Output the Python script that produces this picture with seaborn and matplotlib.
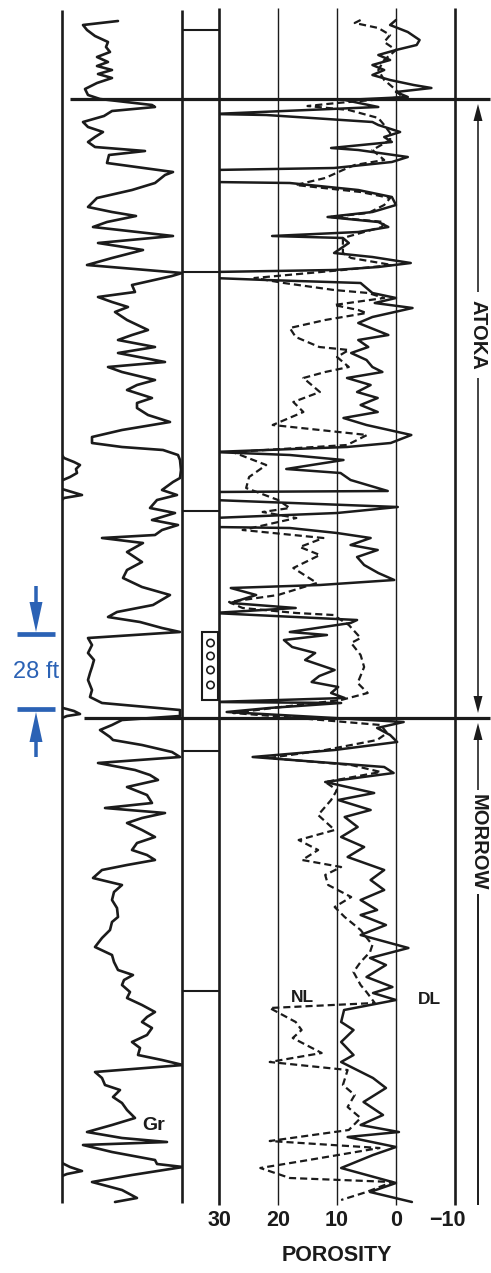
"""
Well log: Gamma ray + porosity (density / neutron), Atoka - Morrow contact.
Chay: python plot.py  -> out.png
"""

import matplotlib

matplotlib.use("Agg")
import matplotlib.pyplot as plt
import matplotlib.transforms as mtransforms
from matplotlib.patches import Circle, Rectangle
import seaborn as sns

sns.set_theme(style="white")
plt.rcParams["font.family"] = ["Liberation Sans", "DejaVu Sans"]

INK = "#1b1b1b"
BLUE = "#2b62b5"

# ---- gia tri doc tu log (do sau tinh theo don vi cua hinh, dinh = 10, day = 1205) ----
gr_depth = [21, 25, 30, 36, 42, 47, 52, 57, 62, 66, 70, 74, 78, 83, 89, 95, 99,
            105, 107, 111, 116, 122, 127, 132, 137, 142, 147, 151, 155, 163,
            172, 175, 183, 190, 198, 207, 212, 216, 222, 227, 236, 243, 250,
            258, 265, 273, 276, 285, 292, 297, 302, 307, 312, 320, 330, 335,
            340, 347, 353, 362, 367, 372, 380, 385, 390, 398, 403, 408, 415,
            422, 430, 437, 443, 447, 450, 455, 460, 470, 478, 482, 490, 495,
            500, 508, 513, 520, 525, 530, 535, 538, 543, 552, 562, 570, 578,
            587, 595, 605, 612, 617, 622, 628, 632, 638, 645, 653, 660, 667,
            673, 680, 690, 697, 703, 710, 716, 720, 725, 730, 737, 740, 745,
            752, 757, 763, 770, 775, 780, 787, 795, 803, 808, 813, 818, 823,
            830, 837, 843, 850, 855, 860, 865, 870, 878, 885, 892, 900, 908,
            917, 922, 930, 938, 947, 955, 962, 970, 975, 980, 985, 992, 998,
            1005, 1012, 1017, 1022, 1028, 1035, 1042, 1048, 1055, 1060, 1065,
            1072, 1078, 1085, 1090, 1097, 1103, 1110, 1118, 1125, 1132, 1138,
            1142, 1145, 1152, 1160, 1164, 1167, 1175, 1182, 1190, 1198, 1202]
gr_value = [56, 21, 25, 33, 46, 44, 48, 35, 46, 35, 50, 36, 50, 35, 23, 26, 38,
            90, 93, 50, 42, 21, 26, 41, 33, 26, 33, 83, 47, 45,
            111, 103, 93, 70, 35, 26, 50, 74, 45, 31, 111, 36, 81,
            50, 25, 120, 110, 70, 73, 36, 50, 66, 53, 65, 86, 70,
            56, 93, 56, 103, 46, 60, 93, 75, 65, 90, 75, 75, 86,
            108, 60, 30, 30, 60, 101, 116, 118, 119, 118, 111, 100, 115,
            95, 88, 113, 90, 116, 100, 93, 40, 81, 65, 80, 65, 61,
            80, 108, 91, 55, 46, 78, 100, 118, 26, 30, 26, 32, 30,
            28, 26, 30, 28, 40, 118, 118, 60, 50, 38, 48, 51, 80,
            110, 118, 36, 73, 88, 96, 65, 85, 90, 43, 103, 80, 65,
            80, 93, 75, 70, 85, 93, 65, 40, 31, 60, 52, 50, 55,
            56, 50, 48, 40, 33, 50, 52, 56, 71, 62, 60, 68, 65,
            80, 93, 85, 80, 90, 85, 70, 78, 76, 100, 121,
            33, 40, 43, 58, 51, 60, 65, 73, 50, 25, 60,
            105, 21, 50, 93, 95, 121, 70, 30, 60, 75, 53]

# doan GR quay lai mep trai (backup scale)
gr_wrap_depth = [[455, 458, 462, 465, 469, 473, 477, 480],
                 [489, 492, 495, 498, 500],
                 [708, 711, 714, 716, 718],
                 [1163, 1167, 1171, 1174, 1176]]
gr_wrap_value = [[0, 2, 12, 18, 14, 15, 8, 1],
                 [0, 10, 20, 2, 0],
                 [1, 12, 18, 5, 0],
                 [0, 8, 20, 5, 0]]

# DL = density log (net lien), NL = neutron log (net dut), porosity %
dl_depth = [20, 25, 32, 40, 45, 50, 55, 60, 65, 70, 75, 80, 85, 88, 92, 97,
            100, 107, 114, 115, 122, 125, 132, 137, 142, 148, 150, 157, 162,
            168, 170, 182, 183, 190, 197, 205, 212, 217, 222, 227, 232, 236,
            238, 243, 253, 257, 263, 267, 270, 272, 278, 280, 283, 293, 298,
            303, 308, 317, 323, 335, 340, 347, 353, 360, 367, 372, 378, 385,
            392, 398, 405, 412, 418, 425, 435, 443, 447, 452, 455, 460, 469,
            473, 480, 491, 492, 500, 507, 513, 518, 527, 528, 533, 538, 545,
            550, 557, 565, 573, 580, 585, 588, 595, 603, 608, 613, 620, 623,
            632, 635, 640, 647, 653, 660, 670, 676, 682, 687, 693, 698, 702,
            703, 708, 712, 718, 722, 728, 735, 742, 750, 757, 767, 773, 782,
            793, 800, 810, 817, 827, 837, 847, 857, 870, 880, 890, 900, 910,
            915, 925, 935, 948, 958, 965, 977, 987, 993, 1000, 1010, 1022,
            1030, 1042, 1055, 1062, 1078, 1088, 1102, 1115, 1125, 1132, 1137,
            1147, 1155, 1168, 1183, 1192, 1202]
dl_poro = [0, 1, -2, -4, -3.5, 0, 3, 1, 4, 2, 4, 1, -3, -6, 0, -2,
           8.7, 3, 31, 22, 4, 3, -0.7, 2, 0.7, 11, 6.4, -2, 0.7,
           10.5, 31, 31, 18, 6.4, 0.7, 0, 4, 11.6, 3, 1.3, 6.4, 21,
           9, 8, 10.5, 4, -2.5, 3, 10.5, 31, 31, 22, 6, 4, 0,
           3.6, -2.8, 4, 6.4, 1.3, 6.4, 4.7, 7.6, 5, 4, 2.3, 8.3, 4.3,
           6.6, 3.1, 6, 3.1, 8.9, 5, -2.6, 0.9, 8.3, 31, 18, 8.9, 18.6,
           9.4, 7.7, 1.4, 31, 31, -0.3, 10, 31, 31, 18, 10, 4.3, 7.7,
           3.1, 6.6, 5.4, 3, 0.3, 12.9, 28, 23.7, 28, 17, 31, 6.6, 7.7,
           18, 11.7, 19, 17.6, 13.7, 15.4, 10.4, 13, 14.3, 9.8, 11, 8.7, 31,
           9.3, 21.5, 28.7, 10.4, -1.3, 3.2, 1, -0.2, 10.4, 24.3, 2, 0.4, 12,
           3.7, 9.8, 4.3, 8.7, 6.5, 9.3, 5.4, 8.2, 2, 4.3, 2, 6, 3.2,
           6, 1.7, 6, -2.1, 4.4, 1.7, 5, 0.6, 3.9, 0, 8.8, 9.3,
           7.2, 9.3, 7.2, 9.3, 3.9, 1.7, 5.5, 2.2, 6, -0.5, 8.2,
           0, 3.9, 9.3, 0, 4.4, -2.7]

nl_depth = [20, 23, 28, 35, 42, 50, 60, 70, 80, 90, 97, 99, 103, 106, 110,
            118, 125, 133, 140, 150, 160, 165, 170, 178, 185, 192, 198, 205,
            213, 217, 222, 227, 238, 253, 258, 265, 270, 278, 283, 290, 293,
            298, 305, 310, 313, 320, 328, 337, 347, 350, 357, 367, 372, 378,
            392, 402, 412, 425, 435, 445, 452, 465, 477, 488, 500, 508, 512,
            518, 530, 538, 547, 555, 568, 583, 595, 602, 608, 613, 615, 625,
            638, 643, 655, 667, 683, 693, 700, 708, 713, 717, 725, 733, 740,
            750, 758, 765, 772, 782, 790, 800, 815, 830, 840, 850, 860, 867,
            875, 885, 897, 907, 917, 930, 945, 952, 962, 972, 985, 992, 1003,
            1008, 1022, 1030, 1038, 1053, 1062, 1070, 1085, 1095, 1107, 1118,
            1130, 1141, 1148, 1160, 1168, 1178, 1182, 1192, 1200]
nl_poro = [6, 7, 3, 1, 2, 0, 2, 3, 2, 0, -1, 2, 10, 15, 8,
           3, 2, 1, 1, 4, 2, 7, 9, 12, 17, 6, 1, 2,
           4.7, 11, 2, 2.4, 9, 9, 7.6, 0.7, 9, 24, 19, 10.5, 4.7,
           2, 10.5, 6.4, 5, 12, 18, 17, 13, 8, 10, 8, 12, 15.7,
           12.9, 17.4, 15.7, 20.9, 4.9, 8.3, 27.7, 22, 24.9, 25.4, 20, 18, 22.6,
           16.9, 26, 12.3, 16.3, 12.9, 17.4, 13.4, 20, 28.3, 26, 16.9, 10.6, 8,
           6, 7.6, 6, 5.4, 6.5, 4.8, 9.3, 20.9, 27.6, 18.7, 2.6, 1.5, 3.2,
           12, 21.5, 7.6, 2.6, 12, 10, 11, 13.2, 10.4, 16.5, 13.2, 15.9, 9.3,
           12, 11.5, 7.6, 10.4, 8.7, 6, 4, 4.4, 6, 7.2, 6, 5, 3.6,
           21.4, 17, 16, 17.5, 12.6, 21.4, 8.2, 9, 7, 8.2, 6,
           8, 21.4, 2.8, 14.8, 23, 18, 0.6, 5, 9.3]

porosity_ticks = [30, 20, 10, 0, -10]
porosity_labels = ["30", "20", "10", "0", "\u221210"]
depth_track_marks = [30, 272, 511, 751, 991]
formation_names = ["ATOKA", "MORROW"]
formation_tops = [99, 718]
formation_base = 1205

W, H = 491, 1273
TOP, BASE = 10, 1205


def track(fig, x0, x1):
    """Truc cho mot track, toa do theo pixel cua hinh goc."""
    ax = fig.add_axes([x0 / W, 1 - BASE / H, (x1 - x0) / W, (BASE - TOP) / H])
    ax.set_ylim(BASE, TOP)
    ax.axis("off")
    return ax


def main():
    fig = plt.figure(figsize=(W / 100, H / 100), dpi=100)
    fig.patch.set_facecolor("white")
    line_kw = dict(sort=False, estimator=None, color=INK, legend=False,
                   solid_joinstyle="round", solid_capstyle="round")

    # --- track gamma ray ---
    ax_gr = track(fig, 62, 182)
    ax_gr.set_xlim(0, 120)
    ax_gr.vlines([0, 120], BASE - 2, TOP, color=INK, lw=1.9, clip_on=False)
    sns.lineplot(x=gr_value, y=gr_depth, lw=1.9, ax=ax_gr, **line_kw)
    for d, v in zip(gr_wrap_depth, gr_wrap_value):
        sns.lineplot(x=v, y=d, lw=1.9, ax=ax_gr, **line_kw)
    ax_gr.text(92, 1126, "Gr", ha="center", va="center", fontsize=14,
               fontweight="bold", color=INK)

    # --- track do sau (cot giua) ---
    ax_dep = track(fig, 182, 219)
    ax_dep.set_xlim(0, 1)
    ax_dep.hlines(depth_track_marks, 0, 1, color=INK, lw=1.5)

    # --- track porosity ---
    ax_por = track(fig, 219, 455)
    ax_por.set_xlim(30, -10)
    ax_por.vlines(porosity_ticks, BASE, TOP - 2, color=INK,
                  lw=[1.9, 1.0, 1.0, 1.0, 1.9], clip_on=False)
    sns.lineplot(x=nl_poro, y=nl_depth, lw=1.6, ax=ax_por, **line_kw)
    ax_por.lines[-1].set_dashes([3.2, 1.8])
    sns.lineplot(x=dl_poro, y=dl_depth, lw=1.8, ax=ax_por, **line_kw)
    ax_por.text(15.8, 998, "NL", ha="center", va="center", fontsize=12.5,
                fontweight="bold", color=INK)
    ax_por.text(-5.6, 1000, "DL", ha="center", va="center", fontsize=12.5,
                fontweight="bold", color=INK)

    for v, lab in zip(porosity_ticks, porosity_labels):
        dx = -8 if v < 0 else 0
        tr = mtransforms.offset_copy(ax_por.transData, fig=fig, x=dx, y=0,
                                     units="dots")
        ax_por.text(v, 1221, lab, transform=tr, ha="center", va="center",
                    fontsize=15.5, fontweight="bold", color=INK, clip_on=False)
    ax_por.text(10, 1256, "POROSITY", ha="center", va="center", fontsize=15.5,
                fontweight="bold", color=INK, clip_on=False)

    # --- lop phu: ranh gioi thanh he, mui ten, chu thich ---
    ov = fig.add_axes([0, 0, 1, 1])
    ov.set_xlim(0, W)
    ov.set_ylim(H, 0)
    ov.axis("off")
    ov.patch.set_alpha(0)

    for top, x_start in zip(formation_tops, [70, 84]):
        ov.hlines(top, x_start, 490, color=INK, lw=2.3)

    # cot ten thanh he
    ov.vlines(478, 880, formation_base, color=INK, lw=1.4)
    arrow_kw = dict(width=1.6, head_width=9, head_length=17,
                    length_includes_head=True, color=INK, lw=0)
    ov.arrow(478, 292, 0, formation_tops[0] + 5 - 292, **arrow_kw)
    ov.arrow(478, 378, 0, formation_tops[1] - 5 - 378, **arrow_kw)
    ov.arrow(478, 790, 0, formation_tops[1] + 5 - 790, **arrow_kw)
    for name, yc in zip(formation_names, [335, 842]):
        ov.text(478, yc, name, rotation=270, ha="center", va="center",
                fontsize=14.5, fontweight="bold", color=INK,
                bbox=dict(fc="white", ec="none", pad=3))

    # doan lay mau (core) voi cac vong tron
    ov.add_patch(Rectangle((202, 632), 16, 68, fc="white", ec=INK, lw=1.5))
    for yc in [643, 656, 670, 685]:
        ov.add_patch(Circle((210.5, yc), 3.7, fc="white", ec=INK, lw=1.2))

    # chu thich 28 ft
    ov.hlines([634, 709], 17, 55, color=BLUE, lw=3.4)
    blue_kw = dict(width=3.5, head_width=13, head_length=30,
                   length_includes_head=True, color=BLUE, lw=0)
    ov.arrow(36, 586, 0, 46, **blue_kw)
    ov.arrow(36, 757, 0, -45, **blue_kw)
    ov.text(36, 672, "28 ft", ha="center", va="center", fontsize=17,
            color=BLUE)

    fig.savefig("out.png", dpi=100, facecolor="white")
    plt.close(fig)


if __name__ == "__main__":
    main()
